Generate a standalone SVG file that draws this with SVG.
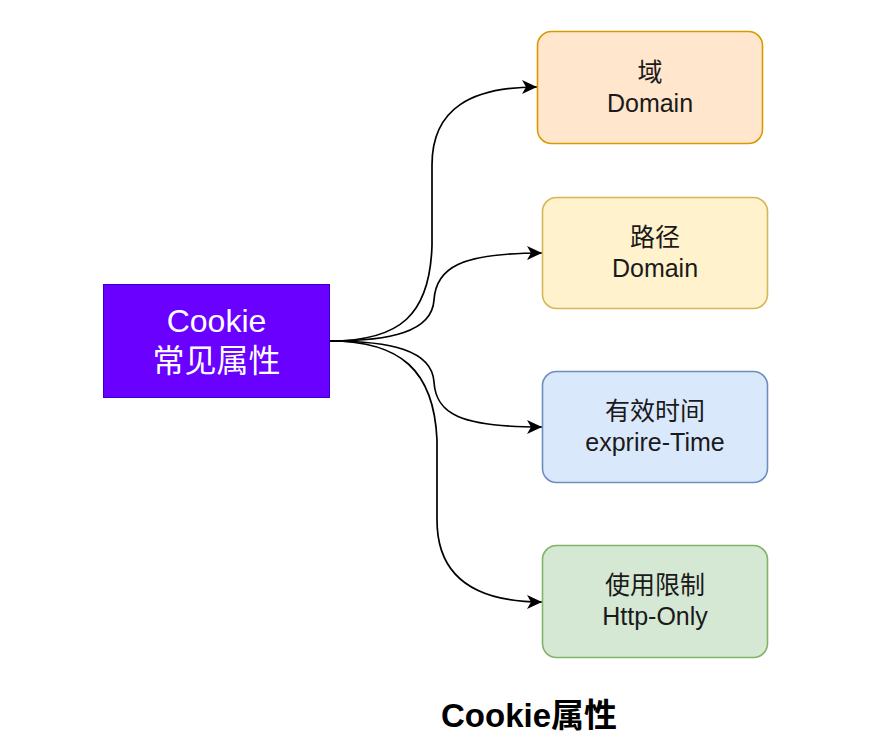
<svg xmlns="http://www.w3.org/2000/svg" width="892" height="754" viewBox="0 0 892 754">
<style>
text{font-family:"Liberation Sans","Noto Sans CJK SC",sans-serif;text-anchor:middle}
.lbl{font-size:25px;fill:#1a1a1a}
.edge{fill:none;stroke:#000;stroke-width:1.7}
.box{stroke-width:1.6}
</style>
<defs>
<marker id="arr" markerUnits="userSpaceOnUse" markerWidth="16" markerHeight="14" refX="15" refY="7" orient="auto">
<path d="M0,0 L15,7 L0,14 L4,7 Z" fill="#000"/>
</marker>
</defs>
<rect width="892" height="754" fill="#fff"/>
<g id="connectors">
<path class="edge" marker-end="url(#arr)" d="M330,341 C400,341 430,315 432,245 L432,165 C432,108 472,87 537,87"/>
<path class="edge" marker-end="url(#arr)" d="M330,341 C390,341 432,332 434,300 C436,268 460,253 542,253"/>
<path class="edge" marker-end="url(#arr)" d="M330,341 C390,341 432,350 434,382 C436,414 460,427 542,427"/>
<path class="edge" marker-end="url(#arr)" d="M330,341 C400,341 434,370 437,440 L437,520 C437,580 480,602 542,602"/>
</g>
<g id="cookie">
<rect x="103.5" y="284.5" width="226" height="113" fill="#6a00ff" stroke="#3700cc"/>
<text x="216.5" y="332" font-size="32" fill="#fff">Cookie</text>
<text x="216.5" y="372" font-size="32" fill="#fff">常见属性</text>
</g>
<g id="domain">
<rect class="box" x="537.5" y="31.5" width="225" height="112" rx="14" fill="#ffe6cc" stroke="#d79b00"/>
<text class="lbl" x="650" y="81">域</text>
<text class="lbl" x="650" y="112">Domain</text>
</g>
<g id="path">
<rect class="box" x="542.5" y="197.5" width="225" height="111" rx="14" fill="#fff2cc" stroke="#d6b656"/>
<text class="lbl" x="655" y="246">路径</text>
<text class="lbl" x="655" y="277">Domain</text>
</g>
<g id="expire">
<rect class="box" x="542.5" y="371.5" width="225" height="111" rx="14" fill="#dae8fc" stroke="#6c8ebf"/>
<text class="lbl" x="655" y="420">有效时间</text>
<text class="lbl" x="655" y="451">exprire-Time</text>
</g>
<g id="httponly">
<rect class="box" x="542.5" y="545.5" width="225" height="112" rx="14" fill="#d5e8d4" stroke="#82b366"/>
<text class="lbl" x="655" y="594">使用限制</text>
<text class="lbl" x="655" y="625">Http-Only</text>
</g>
<g id="title">
<text x="529" y="727" font-size="33" font-weight="bold" fill="#000">Cookie属性</text>
</g>
</svg>
